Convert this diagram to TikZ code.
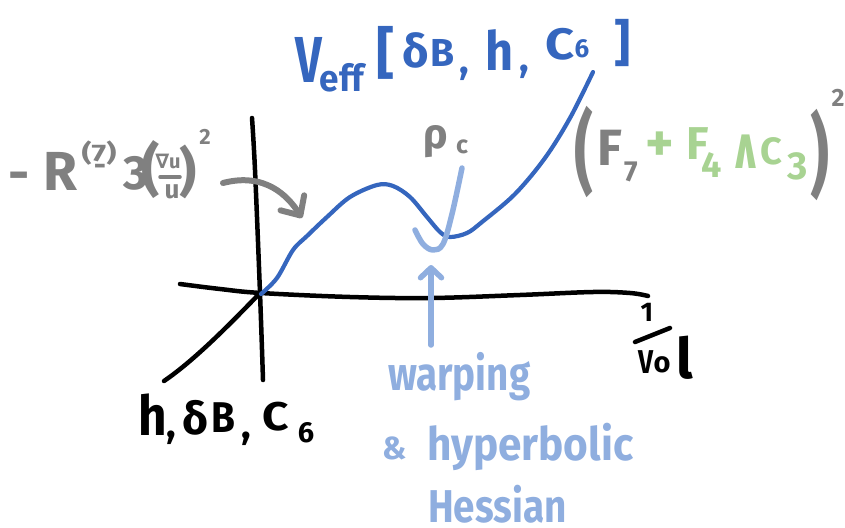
\documentclass[tikz,border=0pt]{standalone}
\usepackage{fontspec}
\setmainfont{Fira Sans}
\newfontfamily\djv{DejaVu Sans}
\usetikzlibrary{arrows.meta}
\definecolor{vblue}{HTML}{3566BE}
\definecolor{lblue}{HTML}{8FAEDF}
\definecolor{gray7}{HTML}{808080}
\definecolor{fgreen}{HTML}{A8D392}
\newcommand{\fsz}[1]{\fontsize{#1}{#1}\selectfont}
\begin{document}
\begin{tikzpicture}[x=1pt,y=-1pt,line cap=round,line join=round,
  tx/.style={inner sep=0pt,outer sep=0pt,font=\fsz{#1}\bfseries},
  axisline/.style={line width=4.5pt,black},
  vcurve/.style={line width=4.2pt,vblue},
  hint/.style={line width=5.5pt,lblue},
  garrow/.style={line width=6pt,gray7,-{Straight Barb[round,length=15pt,width=28pt]}},
  barrow/.style={line width=5.5pt,lblue,-{Straight Barb[round,length=10pt,width=21pt]}}]
\useasboundingbox (0,0) rectangle (845,527);
% axes
\draw[axisline] plot[smooth,tension=0.6] coordinates {(180,284) (220,289) (261,293) (350,297) (431,298) (520,295) (593,292) (630,293) (648,296)};
\draw[axisline] plot[smooth,tension=0.6] coordinates {(252,118) (255,170) (260,293) (263,380)};
\coordinate (dstart) at (164,381);
\coordinate (orig) at (261,292);
\draw[axisline] (dstart) .. controls (195,360) and (232,322) .. (orig);
% potential
\draw[vcurve] plot[smooth,tension=0.55] coordinates {(261,294) (277,278) (293,250) (307,236) (327,217) (350,197) (377,185) (393,186) (410,197) (427,217) (440,232) (450,237) (467,233) (482,222) (515,194) (545,158) (570,118) (593,72)};
% light blue check
\draw[hint] plot[smooth,tension=0.6] coordinates {(415,230) (423,244) (433,250) (443,244) (452,214) (462,168)};
% title
\node[tx=65,vblue,xscale=0.72] (V) at (309,60) {V};
\node[tx=37,vblue,xscale=0.95] (eff) at (342,78) {eff};
\node[tx=56,vblue] (lb) at (386,53) {[};
\node[tx=46,vblue] (delta) at (416,50) {δ};
\node[tx=39,vblue] (B) at (443,53) {B};
\node[tx=40,vblue] (c1) at (464,74) {,};
\node[tx=54,vblue,xscale=0.9] (h) at (500,50) {h};
\node[tx=40,vblue] (c2) at (524,72) {,};
\node[tx=44,vblue,xscale=1.15] (C) at (560,44) {C};
\node[tx=26,vblue] (six) at (582,49) {6};
\node[tx=50,vblue] (rb) at (623,43) {]};
% left gray label
\node[tx=52,gray7] (m1) at (19,182) {-};
\node[tx=55,gray7] (R) at (60,171) {R};
\node[tx=24,gray7,xscale=1.3] (sup7) at (99,153) {(7)};
\node[tx=30,gray7] (m2) at (100,170) {-};
\node[tx=48,gray7] (three) at (136,173) {3};
\node[tx=57,gray7] (lp1) at (151,170) {(};
\node[tx=20,gray7] (num) at (168,161) {{\djv ∇}u};
\node[tx=26,gray7] (den) at (172,192) {u};
\coordinate (fb1) at (160,177);
\coordinate (fb2) at (180,177);
\draw[gray7,line width=3.5pt] (fb1) -- (fb2);
\node[tx=53,gray7] (rp1) at (188,172) {)};
\node[tx=22,gray7] (sq1) at (205,137) {2};
\coordinate (ga1) at (223,183);
\coordinate (ga2) at (302,218);
\draw[garrow] (ga1) .. controls (265,172) and (288,196) .. (ga2);
% rho_c
\node[tx=42,gray7] (rho) at (436,142) {ρ};
\node[tx=25,gray7] (csub) at (462,147) {c};
% right label
\node[tx=90,gray7,xscale=0.65] (lp2) at (584,152) {(};
\node[tx=51,gray7] (F7) at (610,148) {F};
\node[tx=29,gray7] (seven) at (631,172) {7};
\node[tx=54,fgreen] (plus) at (660,147) {+};
\node[tx=46,fgreen] (F4) at (698,144) {F};
\node[tx=36,fgreen] (four) at (712,165) {4};
\node[tx=58,fgreen,xscale=0.7] (wedge) at (746,152) {{\djv ∧}};
\node[tx=38,fgreen] (C3) at (771,151) {C};
\node[tx=39,fgreen] (three3) at (798,166) {3};
\node[tx=90,gray7,xscale=0.65] (rp2) at (820,155) {)};
\node[tx=25,gray7] (sq2) at (838,98) {2};
% bottom black label
\node[tx=55,xscale=0.9] (hb) at (153,415) {h};
\node[tx=40] (cb1) at (171,438) {,};
\node[tx=45] (db) at (195,418) {δ};
\node[tx=43,xscale=0.9] (Bb) at (223,418) {B};
\node[tx=40] (cb2) at (246,439) {,};
\node[tx=40,xscale=1.15] (Cb) at (276,417) {C};
\node[tx=29] (sixb) at (306,433) {6};
% 1/Vol
\node[tx=27] (one) at (647,312) {1};
\coordinate (fr1) at (635,342);
\coordinate (fr2) at (670,328);
\draw[axisline] (fr1) -- (fr2);
\node[tx=33,xscale=0.8] (Vv) at (646,362) {V};
\node[tx=29] (o) at (662,365) {o};
\node[tx=56] (l) at (685,358) {l};
% light blue arrow and text
\coordinate (ab) at (431,345);
\coordinate (at) at (431,265);
\draw[barrow] (ab) -- (at);
\node[tx=47,lblue,anchor=base west,xscale=0.82] (w) at (388,390) {warping};
\node[tx=32,lblue] (amp) at (395,448) {\&};
\node[tx=46,lblue,anchor=base west,xscale=0.92] (hyp) at (427,460) {hyperbolic};
\node[tx=46,lblue,anchor=base west,xscale=0.84] (hes) at (428,522) {Hessian};
\end{tikzpicture}
\end{document}
